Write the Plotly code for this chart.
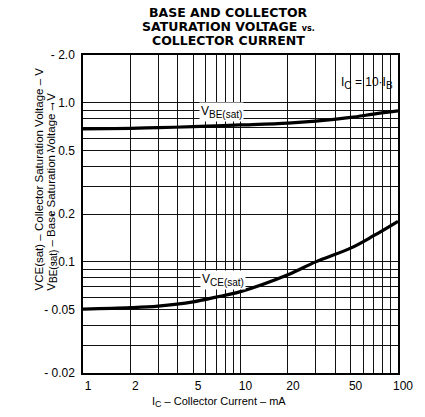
import plotly.graph_objects as go

# Collector current, mA
ic_ma = [1, 2, 3, 5, 7, 10, 20, 30, 50, 70, 100]
# Base saturation voltage, V
vbe_sat = [0.685, 0.692, 0.698, 0.708, 0.717, 0.726, 0.746, 0.768, 0.81, 0.85, 0.89]
# Collector saturation voltage, V
vce_sat = [0.0505, 0.0515, 0.0527, 0.056, 0.060, 0.065, 0.083, 0.100, 0.122, 0.146, 0.18]

x_ticks = [1, 2, 5, 10, 20, 50, 100]
x_labels = ["1", "2", "5", "10", "20", "50", "100"]
x_minor = [3, 4, 6, 7, 8, 9, 30, 40, 60, 70, 80, 90]
y_ticks = [0.02, 0.05, 0.1, 0.2, 0.5, 1.0, 2.0]
y_labels = ["- 0.02", "- 0.05", "- 0.1", "- 0.2", "- 0.5", "- 1.0", "- 2.0"]
y_minor = [0.03, 0.04, 0.06, 0.07, 0.08, 0.09, 0.3, 0.4, 0.6, 0.7, 0.8, 0.9]

FONT = "Liberation Sans, Arial, sans-serif"
TITLE_FONT = "DejaVu Sans, sans-serif"


def sub(t, size):
    return "<sub><span style='font-size:%dpx'>%s</span></sub>" % (size, t)


fig = go.Figure()
fig.add_trace(go.Scatter(x=ic_ma, y=vbe_sat, mode="lines", line=dict(color="black", width=3.2, shape="spline"),
                         showlegend=False, hoverinfo="skip"))
fig.add_trace(go.Scatter(x=ic_ma, y=vce_sat, mode="lines", line=dict(color="black", width=3.2, shape="spline"),
                         showlegend=False, hoverinfo="skip"))

grid_color = "#111111"
fig.update_xaxes(type="log", range=[0, 2], tickvals=x_ticks, ticktext=x_labels,
                 showgrid=True, gridcolor=grid_color, gridwidth=1,
                 minor=dict(tickvals=x_minor, showgrid=True, gridcolor=grid_color, gridwidth=1, ticks=""),
                 showline=True, mirror=True, linecolor="black", linewidth=1.5, ticks="",
                 tickfont=dict(family=FONT, size=12, color="black"),
                 ticklabelstandoff=1, ticklabelshift=5, zeroline=False)
fig.update_yaxes(type="log", range=[-1.69897, 0.30103], tickvals=y_ticks, ticktext=y_labels,
                 showgrid=True, gridcolor=grid_color, gridwidth=1,
                 minor=dict(tickvals=y_minor, showgrid=True, gridcolor=grid_color, gridwidth=1, ticks=""),
                 showline=True, mirror=True, linecolor="black", linewidth=1.5, ticks="",
                 tickfont=dict(family=FONT, size=12, color="black"),
                 ticklabelstandoff=4, zeroline=False)

# clear area behind the condition note
fig.add_shape(type="rect", xref="paper", yref="paper", x0=0.828, x1=1.0, y0=0.856, y1=1.0,
              fillcolor="white", line=dict(width=0), layer="between")

ann = []
for txt, ypx in [("BASE AND COLLECTOR", 12.5),
                 ("SATURATION VOLTAGE <span style='font-size:8px'>vs.</span>", 26.5),
                 ("COLLECTOR CURRENT", 40.5)]:
    ann.append(dict(text="<b>" + txt + "</b>", xref="paper", yref="paper",
                    x=(232 - 83) / 322, y=(373 - ypx) / 318, xanchor="center", yanchor="middle",
                    showarrow=False, font=dict(family=TITLE_FONT, size=12.5, color="black")))

ann.append(dict(text="I" + sub("C", 9) + " – Collector Current – mA", xref="paper", yref="paper",
                x=(222 - 83) / 322, y=(373 - 402) / 318, xanchor="center", yanchor="middle",
                showarrow=False, font=dict(family=FONT, size=11, color="black")))
ann.append(dict(text="VCE(sat) – Collector Saturation Voltage – V", xref="paper", yref="paper",
                x=(37 - 83) / 322, y=(373 - 293) / 318, xanchor="center", yanchor="bottom", textangle=-90,
                showarrow=False, font=dict(family=FONT, size=11.5, color="black")))
ann.append(dict(text="V" + sub("BE(sat)", 10) + " – Base Saturation Voltage – V", xref="paper", yref="paper",
                x=(51 - 83) / 322, y=(373 - 293) / 318, xanchor="center", yanchor="bottom", textangle=-90,
                showarrow=False, font=dict(family=FONT, size=11.5, color="black")))
ann.append(dict(text="V" + sub("BE(sat)", 10), xref="paper", yref="paper",
                x=(225 - 83) / 322, y=(373 - 112) / 318, xanchor="center", yanchor="middle",
                showarrow=False, bgcolor="white", font=dict(family=FONT, size=12, color="black")))
ann.append(dict(text="V" + sub("CE(sat)", 10), xref="paper", yref="paper",
                x=(226 - 83) / 322, y=(373 - 280) / 318, xanchor="center", yanchor="middle",
                showarrow=False, bgcolor="white", font=dict(family=FONT, size=12, color="black")))
ann.append(dict(text="I" + sub("C", 10) + " = 10·I" + sub("B", 10), xref="paper", yref="paper",
                x=(373 - 83) / 322, y=(373 - 83) / 318, xanchor="center", yanchor="middle",
                showarrow=False, font=dict(family=FONT, size=12, color="black")))

fig.update_layout(width=425, height=417, margin=dict(l=83, r=20, t=55, b=44),
                  paper_bgcolor="white", plot_bgcolor="white", annotations=ann)

fig.write_html("out.html")
